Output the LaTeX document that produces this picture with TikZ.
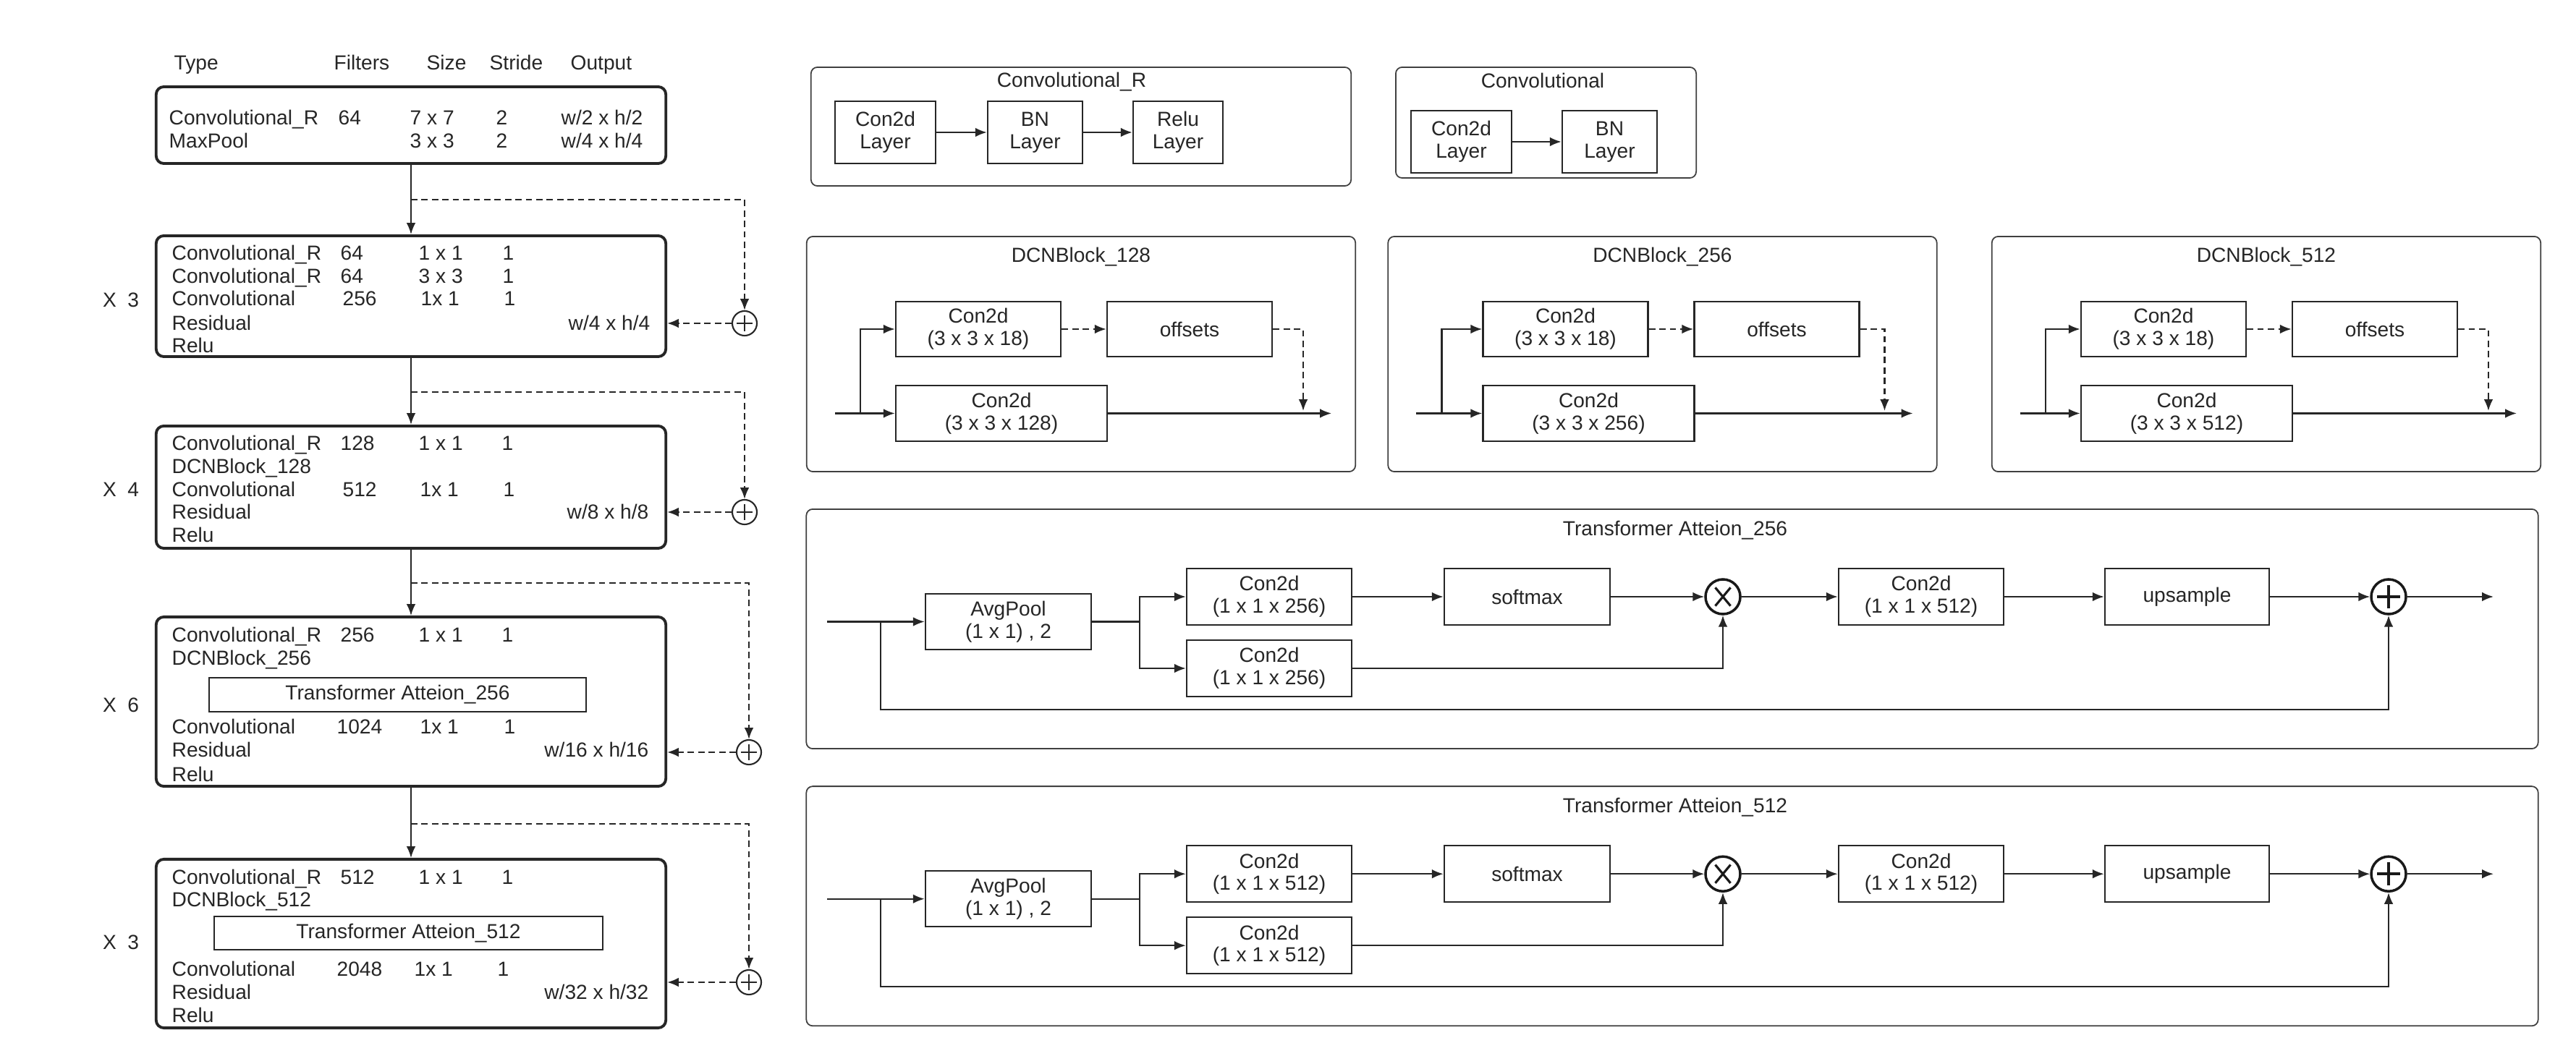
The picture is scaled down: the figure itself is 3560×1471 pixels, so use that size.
\documentclass[tikz,border=0pt]{standalone}
\usepackage{fontspec}
\setmainfont{Liberation Sans}
\usetikzlibrary{arrows.meta}
\newcommand\dcnblock[4]{%
\begin{scope}[xshift=#2]
 \node[grp, minimum width=7.58cm, minimum height=3.25cm] (#1g) at (1494,489.5) {};
 \node (#1t) at (1494,355) {DCNBlock\_#3};
 \node[bx, minimum width=2.28cm, minimum height=0.76cm, xshift=#4] (#1k1) at (1352,455) {Con2d\\(3 x 3 x 18)};
 \node[bx, minimum width=2.28cm, minimum height=0.76cm, xshift=#4] (#1off) at (1644,455) {offsets};
 \node[bx, minimum width=2.92cm, minimum height=0.77cm, xshift=#4] (#1k2) at (1384,571.5) {Con2d\\(3 x 3 x #3)};
 \coordinate (#1in) at (1154,571.5);
 \coordinate (#1br) at (1189,571.5);
 \coordinate (#1out) at (1840,571.5);
 \coordinate (#1dn) at (1801,568);
 \draw[arr] (#1in) -- (#1k2.west);
 \draw[arr] (#1k2.east) -- (#1out);
 \draw[arr] (#1br) |- (#1k1.west);
 \draw[darr] (#1k1) -- (#1off);
 \draw[darr] (#1off.east) -| (#1dn);
\end{scope}}
\newcommand\transblock[4]{%
\begin{scope}[yshift=#2]
 \node[grp, minimum width=23.92cm, minimum height=3.31cm] (#1g) at (2311,869.5) {};
 \node (#1t) at (2315,733) {#3};
 \coordinate (#1in) at (1143,859.5);
 \coordinate (#1s) at (1217,859.5);
 \coordinate (#1sb) at (1217,981);
 \node[bx, minimum width=2.29cm, minimum height=0.77cm] (#1ap) at (1393.5,859.5) {AvgPool\\(1 x 1) , 2};
 \coordinate (#1j) at (1575,859.5);
 \node[bx, minimum width=2.28cm, minimum height=0.78cm] (#1q) at (1754,825) {Con2d\\(1 x 1 x #4)};
 \node[bx, minimum width=2.28cm, minimum height=0.78cm] (#1v) at (1754,924) {Con2d\\(1 x 1 x #4)};
 \node[bx, minimum width=2.29cm, minimum height=0.78cm] (#1sm) at (2110.5,825) {softmax};
 \node[bmul] (#1mul) at (2381,825) {};
 \node[bx, minimum width=2.28cm, minimum height=0.78cm] (#1c) at (2655,825) {Con2d\\(1 x 1 x 512)};
 \node[bx, minimum width=2.27cm, minimum height=0.78cm] (#1up) at (3022.5,825) {upsample};
 \node[bop] (#1add) at (3301,825) {};
 \coordinate (#1out) at (3446,825);
 \draw[arr] (#1in) -- (#1ap.west);
 \draw[ln] (#1ap.east) -- (#1j);
 \draw[arr] (#1j) |- (#1q.west);
 \draw[arr] (#1j) |- (#1v.west);
 \draw[arr] (#1q) -- (#1sm);
 \draw[arr] (#1sm) -- (#1mul);
 \draw[arr] (#1v.east) -| (#1mul.south);
 \draw[arr] (#1mul) -- (#1c);
 \draw[arr] (#1c) -- (#1up);
 \draw[arr] (#1up) -- (#1add);
 \draw[arr] (#1add) -- (#1out);
 \draw[arr] (#1s) -- (#1sb) -| (#1add.south);
\end{scope}}
\begin{document}
\begin{tikzpicture}[x=0.01cm,y=-0.01cm, font=\fontsize{8}{8.8}\selectfont, text=black!85,
 bigbox/.style={draw=black!85, line width=1.1pt, rounded corners=3pt, inner sep=0pt},
 grp/.style={draw=black!75, line width=0.5pt, rounded corners=2.5pt, inner sep=0pt},
 bx/.style={draw=black!85, line width=0.7pt, align=center, inner sep=0pt},
 txt/.style={inner sep=0pt, anchor=base west},
 rtxt/.style={inner sep=0pt, anchor=base east},
 arr/.style={-{Latex[length=4.5pt,width=3.6pt]}, line width=0.6pt, draw=black!85},
 darr/.style={arr, dash pattern=on 2.5pt off 1.6pt},
 ln/.style={line width=0.6pt, draw=black!85},
 sop/.style={circle, draw=black!85, line width=0.6pt, minimum size=0.34cm, inner sep=0pt,
   path picture={\draw[line width=0.6pt] ([xshift=-3pt]path picture bounding box.center) -- ([xshift=3pt]path picture bounding box.center);
                 \draw[line width=0.6pt] ([yshift=-3pt]path picture bounding box.center) -- ([yshift=3pt]path picture bounding box.center);}},
 bop/.style={circle, draw=black!90, line width=1pt, minimum size=0.48cm, inner sep=0pt,
   path picture={\draw[line width=1pt] ([xshift=-4.5pt]path picture bounding box.center) -- ([xshift=4.5pt]path picture bounding box.center);
                 \draw[line width=1pt] ([yshift=-4.5pt]path picture bounding box.center) -- ([yshift=4.5pt]path picture bounding box.center);}},
 bmul/.style={circle, draw=black!90, line width=1pt, minimum size=0.48cm, inner sep=0pt,
   path picture={\draw[line width=0.9pt] ([shift={(-3pt,-3.6pt)}]path picture bounding box.center) -- ([shift={(3pt,3.6pt)}]path picture bounding box.center);
                 \draw[line width=0.9pt] ([shift={(-3pt,3.6pt)}]path picture bounding box.center) -- ([shift={(3pt,-3.6pt)}]path picture bounding box.center);}}
]
\fill[white] (0,0) rectangle (3560,1471);
\useasboundingbox (0,0) rectangle (3560,1471);

% ---------- header ----------
\node[txt] (hT) at (240,97) {Type};
\node[txt] (hF) at (461,97) {Filters};
\node[txt] (hS) at (589,97) {Size};
\node[txt] (hSt) at (676,97) {Stride};
\node[txt] (hO) at (788,97) {Output};

% ---------- left boxes ----------
\node[bigbox, minimum width=7.04cm, minimum height=1.06cm] (b1) at (568,173) {};
\node[bigbox, minimum width=7.04cm, minimum height=1.67cm] (b2) at (568,409.5) {};
\node[bigbox, minimum width=7.04cm, minimum height=1.69cm] (b3) at (568,673.5) {};
\node[bigbox, minimum width=7.04cm, minimum height=2.34cm] (b4) at (568,970) {};
\node[bigbox, minimum width=7.04cm, minimum height=2.33cm] (b5) at (568,1304.5) {};

% box 1
\node[txt] (b1a) at (233,173) {Convolutional\_R};
\node[txt] (b1b) at (467,173) {64};
\node[txt] (b1c) at (566,173) {7 x 7};
\node[txt] (b1d) at (685,173) {2};
\node[rtxt] (b1e) at (889,173) {w/2 x h/2};
\node[txt] (b1f) at (233,205) {MaxPool};
\node[txt] (b1g) at (566,205) {3 x 3};
\node[txt] (b1h) at (685,205) {2};
\node[rtxt] (b1i) at (889,205) {w/4 x h/4};

% box 2
\node[txt] (b2a) at (237,360) {Convolutional\_R};
\node[txt] (b2b) at (470,360) {64};
\node[txt] (b2c) at (578,360) {1 x 1};
\node[txt] (b2d) at (694,360) {1};
\node[txt] (b2e) at (237,392) {Convolutional\_R};
\node[txt] (b2f) at (470,392) {64};
\node[txt] (b2g) at (578,392) {3 x 3};
\node[txt] (b2h) at (694,392) {1};
\node[txt] (b2i) at (237,423) {Convolutional};
\node[txt] (b2j) at (473,423) {256};
\node[txt] (b2k) at (581,423) {1x 1};
\node[txt] (b2l) at (696,423) {1};
\node[txt] (b2m) at (237,457) {Residual};
\node[rtxt] (b2n) at (899,457) {w/4 x h/4};
\node[txt] (b2o) at (237,488) {Relu};

% box 3
\node[txt] (b3a) at (237,623) {Convolutional\_R};
\node[txt] (b3b) at (470,623) {128};
\node[txt] (b3c) at (578,623) {1 x 1};
\node[txt] (b3d) at (693,623) {1};
\node[txt] (b3e) at (237,655) {DCNBlock\_128};
\node[txt] (b3f) at (237,687) {Convolutional};
\node[txt] (b3g) at (473,687) {512};
\node[txt] (b3h) at (580,687) {1x 1};
\node[txt] (b3i) at (695,687) {1};
\node[txt] (b3j) at (237,718) {Residual};
\node[rtxt] (b3k) at (897,718) {w/8 x h/8};
\node[txt] (b3l) at (237,750) {Relu};

% box 4
\node[txt] (b4a) at (237,888) {Convolutional\_R};
\node[txt] (b4b) at (470,888) {256};
\node[txt] (b4c) at (578,888) {1 x 1};
\node[txt] (b4d) at (693,888) {1};
\node[txt] (b4e) at (237,920) {DCNBlock\_256};
\node[bx, minimum width=5.21cm, minimum height=0.47cm] (ta4) at (549.5,960.5) {Transformer Atteion\_256};
\node[txt] (b4f) at (237,1015) {Convolutional};
\node[txt] (b4g) at (465,1015) {1024};
\node[txt] (b4h) at (580,1015) {1x 1};
\node[txt] (b4i) at (696,1015) {1};
\node[txt] (b4j) at (237,1047) {Residual};
\node[rtxt] (b4k) at (897,1047) {w/16 x h/16};
\node[txt] (b4l) at (237,1081) {Relu};

% box 5
\node[txt] (b5a) at (237,1223) {Convolutional\_R};
\node[txt] (b5b) at (470,1223) {512};
\node[txt] (b5c) at (578,1223) {1 x 1};
\node[txt] (b5d) at (693,1223) {1};
\node[txt] (b5e) at (237,1254) {DCNBlock\_512};
\node[bx, minimum width=5.37cm, minimum height=0.46cm] (ta5) at (564.5,1290) {Transformer Atteion\_512};
\node[txt] (b5f) at (237,1350) {Convolutional};
\node[txt] (b5g) at (465,1350) {2048};
\node[txt] (b5h) at (572,1350) {1x 1};
\node[txt] (b5i) at (687,1350) {1};
\node[txt] (b5j) at (237,1382) {Residual};
\node[rtxt] (b5k) at (897,1382) {w/32 x h/32};
\node[txt] (b5l) at (237,1413) {Relu};

% repeat labels
\node[anchor=base, inner sep=0pt] (x1) at (167,425) {X\hspace{0.55em}3};
\node[anchor=base, inner sep=0pt] (x2) at (167,687) {X\hspace{0.55em}4};
\node[anchor=base, inner sep=0pt] (x3) at (167,985) {X\hspace{0.55em}6};
\node[anchor=base, inner sep=0pt] (x4) at (167,1313) {X\hspace{0.55em}3};

% main flow
\draw[arr] (b1.south) -- (b2.north);
\draw[arr] (b2.south) -- (b3.north);
\draw[arr] (b3.south) -- (b4.north);
\draw[arr] (b4.south) -- (b5.north);

% residual paths
\coordinate (d2) at (568,276);
\coordinate (d3) at (568,542);
\coordinate (d4) at (568,806);
\coordinate (d5) at (568,1139);
\node[sop] (p2) at (1029,447) {};
\node[sop] (p3) at (1029,708) {};
\node[sop] (p4) at (1035,1040) {};
\node[sop] (p5) at (1035,1358) {};
\draw[darr] (d2) -| (p2.north);
\draw[darr] (d3) -| (p3.north);
\draw[darr] (d4) -| (p4.north);
\draw[darr] (d5) -| (p5.north);
\draw[darr] (p2.west) -- (b2.east |- p2.west);
\draw[darr] (p3.west) -- (b3.east |- p3.west);
\draw[darr] (p4.west) -- (b4.east |- p4.west);
\draw[darr] (p5.west) -- (b5.east |- p5.west);

% ---------- Convolutional_R ----------
\node[grp, minimum width=7.46cm, minimum height=1.64cm] (gR) at (1494,175) {};
\node (gRt) at (1481,113) {Convolutional\_R};
\node[bx, minimum width=1.39cm, minimum height=0.86cm] (rc1) at (1223.5,183) {Con2d\\Layer};
\node[bx, minimum width=1.31cm, minimum height=0.86cm] (rc2) at (1430.5,183) {BN\\Layer};
\node[bx, minimum width=1.24cm, minimum height=0.86cm] (rc3) at (1628,183) {Relu\\Layer};
\draw[arr] (rc1) -- (rc2);
\draw[arr] (rc2) -- (rc3);

% ---------- Convolutional ----------
\node[grp, minimum width=4.15cm, minimum height=1.53cm] (gC) at (2136.5,169.5) {};
\node (gCt) at (2132,111) {Convolutional};
\node[bx, minimum width=1.39cm, minimum height=0.86cm] (cc1) at (2019.5,196) {Con2d\\Layer};
\node[bx, minimum width=1.31cm, minimum height=0.86cm] (cc2) at (2224.5,196) {BN\\Layer};
\draw[arr] (cc1) -- (cc2);

% ---------- DCN blocks ----------
\dcnblock{da}{0cm}{128}{0cm}
\dcnblock{db}{8.03cm}{256}{0.08cm}
\dcnblock{dc}{16.37cm}{512}{0cm}

% ---------- Transformer blocks ----------
\transblock{ta}{0cm}{Transformer Atteion\_256}{256}
\transblock{tb}{-3.83cm}{Transformer Atteion\_512}{512}

\end{tikzpicture}
\end{document}
